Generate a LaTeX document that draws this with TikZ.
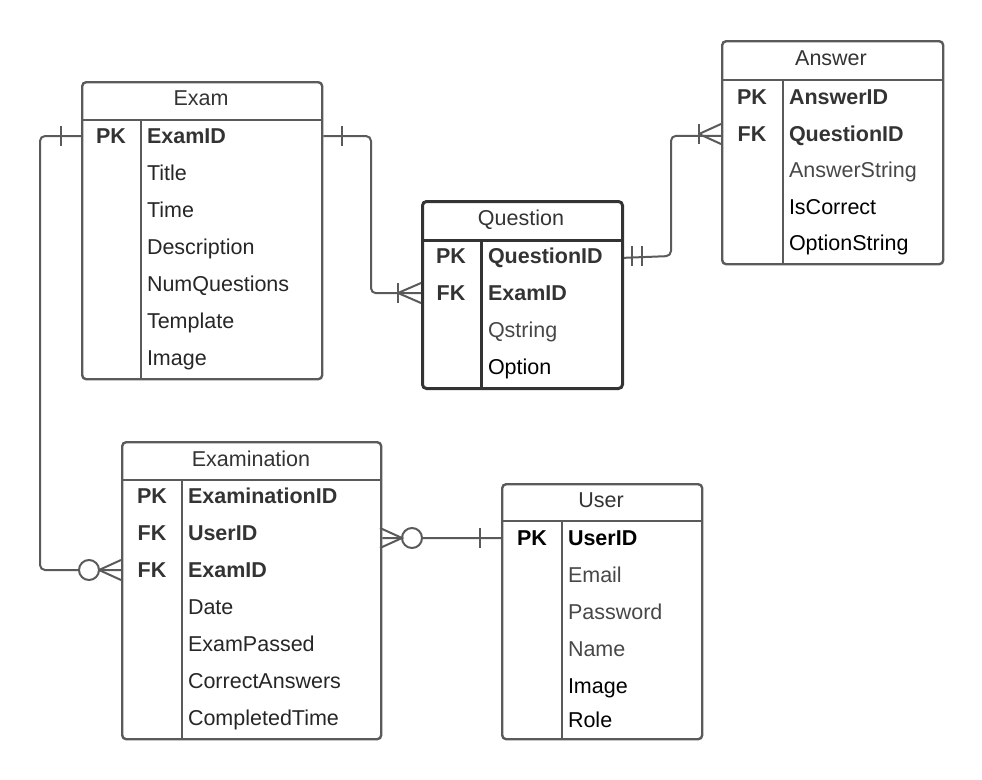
\documentclass[tikz,border=0pt]{standalone}
\usepackage{fontspec}
\setmainfont{Liberation Sans}
\definecolor{linegray}{HTML}{5A5A5A}
\definecolor{txtgray}{HTML}{333333}
\begin{document}
\begin{tikzpicture}[x=1pt, y=-1pt, line width=2pt,
  tbl/.style={draw=linegray, line width=2.4pt, rounded corners=4pt, anchor=north west, inner sep=0pt},
  sep/.style={draw=linegray, line width=2.4pt},
  title/.style={anchor=base, yshift=-7.5pt, inner sep=0pt, text=txtgray, font=\fontsize{21.5}{24}\selectfont},
  key/.style={anchor=base, yshift=-7.5pt, inner sep=0pt, text=txtgray, font=\fontsize{21.5}{24}\selectfont\bfseries},
  field/.style={anchor=base west, yshift=-7.5pt, inner sep=0pt, text=black!85, font=\fontsize{21.5}{24}\selectfont},
  bfield/.style={field, text=txtgray, font=\fontsize{21.5}{24}\selectfont\bfseries},
  dim/.style={text=black!72},
  conn/.style={draw=linegray, line width=2pt}]
\useasboundingbox (0,0) rectangle (982,779);

% Exam
\node[tbl, minimum width=240, minimum height=297] (exam) at (81,81) {};
\draw[sep] (81,120) -- (321,120);
\draw[sep] (141,120) -- (141,378);
\node[title] (exam-t) at (201,98) {Exam};
\node[key] at (111,136) {PK};
\node[bfield] (exam-id) at (146,136) {ExamID};
\node[field] at (146,173) {Title};
\node[field] at (146,210) {Time};
\node[field] at (146,247) {Description};
\node[field] at (146,284) {NumQuestions};
\node[field] at (146,321) {Template};
\node[field] at (146,358) {Image};

% Answer
\node[tbl, minimum width=221, minimum height=223] (answer) at (721,40) {};
\draw[sep] (721,80) -- (942,80);
\draw[sep] (783,80) -- (783,263);
\node[title] (answer-t) at (831,58) {Answer};
\node[key] at (752,97) {PK};
\node[key] at (752,134) {FK};
\node[bfield] (answer-id) at (788,97) {AnswerID};
\node[bfield] (answer-qid) at (788,134) {QuestionID};
\node[field, dim] at (788,170) {AnswerString};
\node[field, text=black] at (788,207) {IsCorrect};
\node[field, text=black] at (788,243) {OptionString};

% Question
\node[tbl, draw=black!80, line width=3pt, minimum width=200, minimum height=187] (question) at (421,200) {};
\draw[sep, draw=black!80, line width=3pt] (421,240) -- (621,240);
\draw[sep, draw=black!80, line width=3pt] (481,240) -- (481,387);
\node[title] (question-t) at (521,218) {Question};
\node[key] at (451,256) {PK};
\node[key] at (451,293) {FK};
\node[bfield] (question-id) at (487,256) {QuestionID};
\node[bfield] (question-exam) at (487,293) {ExamID};
\node[field, dim] at (487,330) {Qstring};
\node[field, text=black] at (487,367) {Option};

% Examination
\node[tbl, minimum width=259, minimum height=297] (examination) at (121,441) {};
\draw[sep] (121,480) -- (380,480);
\draw[sep] (182,480) -- (182,738);
\node[title] (examination-t) at (251,459) {Examination};
\node[key] at (152,496) {PK};
\node[key] at (152,533) {FK};
\node[key] at (152,570) {FK};
\node[bfield] (xn-id) at (187,496) {ExaminationID};
\node[bfield] (xn-user) at (187,533) {UserID};
\node[bfield] (xn-exam) at (187,570) {ExamID};
\node[field] at (187,607) {Date};
\node[field] at (187,644) {ExamPassed};
\node[field] at (187,681) {CorrectAnswers};
\node[field] at (187,718) {CompletedTime};

% User
\node[tbl, minimum width=200, minimum height=255] (user) at (501,483) {};
\draw[sep] (501,521) -- (701,521);
\draw[sep] (562,521) -- (562,738);
\node[title] (user-t) at (601,500) {User};
\node[key, text=black] at (532,538) {PK};
\node[bfield, text=black] (user-id) at (567,538) {UserID};
\node[field, dim] at (567,575) {Email};
\node[field, dim] at (567,612) {Password};
\node[field, dim] at (567,649) {Name};
\node[field, text=black] at (567,686) {Image};
\node[field, text=black] at (567,720) {Role};

% Exam -- Examination
\draw[conn, rounded corners=5pt] (exam.west |- exam-id) -- (40,136) |- (79,570);
\draw[conn] (61,126) -- (61,146);
\draw[conn] (89,570) circle (10);
\draw[conn] (99,570) -- (examination.west |- xn-exam);
\draw[conn] (99,570) -- (121,560) (99,570) -- (121,580);

% Exam -- Question
\draw[conn, rounded corners=5pt] (exam.east |- exam-id) -- (371,136) |- (question.west |- question-exam);
\draw[conn] (342,126) -- (342,146);
\draw[conn] (398,283) -- (398,303);
\draw[conn] (398,293) -- (421,283) (398,293) -- (421,303);

% Question -- Answer
\draw[conn, rounded corners=5pt] (question.east |- question-id) -- (671,256) |- (answer.west |- answer-qid);
\draw[conn] (632,246) -- (632,266) (642,246) -- (642,266);
\draw[conn] (699,124) -- (699,144);
\draw[conn] (699,134) -- (721,124) (699,134) -- (721,144);

% Examination -- User
\draw[conn] (examination.east |- user-id) -- (402,538);
\draw[conn] (380,528) -- (402,538) -- (380,548);
\draw[conn] (412,538) circle (10);
\draw[conn] (422,538) -- (user.west |- user-id);
\draw[conn] (480,528) -- (480,548);
\end{tikzpicture}
\end{document}
